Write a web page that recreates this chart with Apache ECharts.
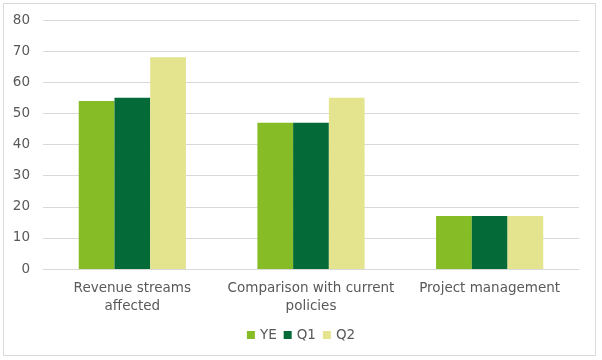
<!DOCTYPE html>
<html>
<head>
<meta charset="utf-8">
<script src="https://cdn.jsdelivr.net/npm/echarts@6/dist/echarts.min.js"></script>
<style>
html,body{margin:0;padding:0;background:#fff;}
#c{width:602px;height:360px;}
</style>
</head>
<body>
<div id="c"></div>
<script>
const categories = ['Revenue streams\naffected', 'Comparison with current\npolicies', 'Project management'];
const seriesNames = ['YE', 'Q1', 'Q2'];
const ye = [54, 47, 17];
const q1 = [55, 47, 17];
const q2 = [68, 55, 17];
const yTicks = [0, 10, 20, 30, 40, 50, 60, 70, 80];
const colors = ['#86bc25', '#046a38', '#e3e48d'];

const font = '"DejaVu Sans", sans-serif';
const chart = echarts.init(document.getElementById('c'));
const data = [ye, q1, q2];
chart.setOption({
  animation: false,
  graphic: [{
    type: 'rect',
    shape: {x: 3.5, y: 3.5, width: 592, height: 352},
    style: {fill: 'none', stroke: '#d9d9d9', lineWidth: 1},
    silent: true
  }],
  grid: {left: 43, right: 23, top: 20, bottom: 91, containLabel: false},
  legend: {
    bottom: 13,
    left: 'center',
    itemWidth: 8,
    itemHeight: 8,
    itemGap: 7,
    icon: 'rect',
    textStyle: {color: '#595959', fontSize: 13.5, fontFamily: font},
    data: seriesNames
  },
  xAxis: {
    type: 'category',
    data: categories,
    axisTick: {show: false},
    axisLine: {lineStyle: {color: '#d9d9d9'}},
    axisLabel: {color: '#595959', fontSize: 13.5, fontFamily: font, lineHeight: 17.5, margin: 11, interval: 0}
  },
  yAxis: {
    type: 'value',
    min: yTicks[0],
    max: yTicks[yTicks.length - 1],
    interval: 10,
    axisLine: {show: false},
    axisTick: {show: false},
    splitLine: {lineStyle: {color: '#d9d9d9'}},
    axisLabel: {color: '#595959', fontSize: 13.5, fontFamily: font, margin: 13}
  },
  series: seriesNames.map((n, i) => ({
    name: n,
    type: 'bar',
    data: data[i],
    barWidth: '20%',
    barGap: '0%',
    itemStyle: {color: colors[i]}
  }))
});
</script>
</body>
</html>
